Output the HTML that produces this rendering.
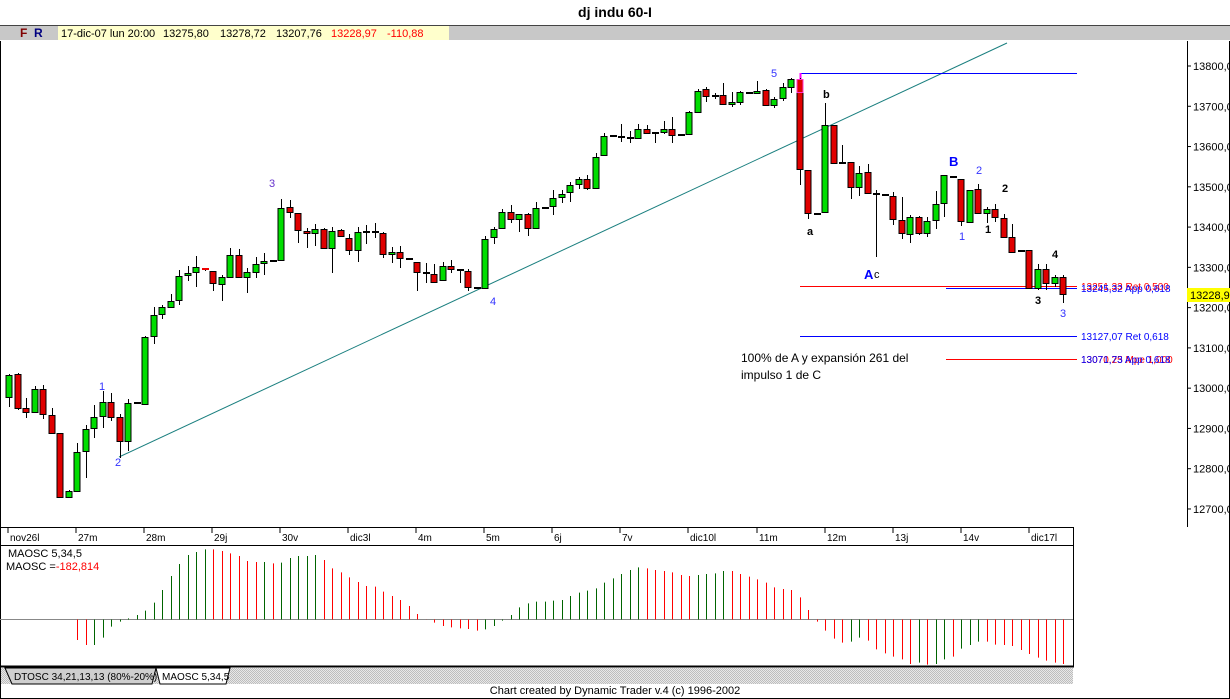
<!DOCTYPE html>
<html><head><meta charset="utf-8">
<style>
body{margin:0;background:#fff;}
svg{display:block;font-family:"Liberation Sans",sans-serif;}
</style></head>
<body>
<svg id="s" width="1230" height="699" xmlns="http://www.w3.org/2000/svg">
<defs>
<pattern id="hatch" width="2" height="2" patternUnits="userSpaceOnUse"><rect width="2" height="2" fill="#e8e8e8"/><rect width="1" height="1" fill="#bdbdbd"/><rect x="1" y="1" width="1" height="1" fill="#bdbdbd"/></pattern>
</defs>
<rect x="0" y="0" width="1230" height="699" fill="#fff"/>
<text x="615" y="17" font-size="14" font-weight="bold" text-anchor="middle" font-family="Liberation Sans,sans-serif">dj indu 60-I</text>
<rect x="0" y="25" width="1230" height="15" fill="#c8c8c8"/>
<line x1="0" y1="25.5" x2="1230" y2="25.5" stroke="#444"/>
<line x1="0" y1="40.5" x2="1230" y2="40.5" stroke="#fff"/>
<text x="20" y="37" font-size="12" font-weight="bold" fill="#800000">F</text>
<text x="34" y="37" font-size="12" font-weight="bold" fill="#000080">R</text>
<rect x="58" y="26" width="391" height="14" fill="#ffffcc"/>
<text x="61" y="37" font-size="11" fill="#000">17-dic-07 lun 20:00</text>
<text x="163" y="37" font-size="11">13275,80</text>
<text x="220" y="37" font-size="11">13278,72</text>
<text x="276" y="37" font-size="11">13207,76</text>
<text x="331" y="37" font-size="11" fill="#f00">13228,97</text>
<text x="387" y="37" font-size="11" fill="#f00">-110,88</text>
<line x1="0.5" y1="41" x2="0.5" y2="699" stroke="#000"/>
<line x1="1229.5" y1="41" x2="1229.5" y2="699" stroke="#000"/>
<line x1="0" y1="698.5" x2="1230" y2="698.5" stroke="#000"/>
<line x1="1187.5" y1="41" x2="1187.5" y2="527" stroke="#000"/>
<g id="axis" font-size="11"></g>
<line x1="0" y1="527.5" x2="1074" y2="527.5" stroke="#000"/>
<line x1="0" y1="545.5" x2="1074" y2="545.5" stroke="#000"/>
<line x1="1073.5" y1="527" x2="1073.5" y2="667" stroke="#000"/>
<line x1="0" y1="666.5" x2="1074" y2="666.5" stroke="#000" stroke-width="2"/>
<g id="dates" font-size="10"></g>
<line x1="119" y1="457" x2="1007" y2="43" stroke="#1a7f7f" stroke-width="1"/>
<line x1="800" y1="73.5" x2="1077" y2="73.5" stroke="#0000ff"/>
<line x1="800.5" y1="73" x2="800.5" y2="80" stroke="#ff00ff" stroke-width="2"/>
<line x1="800" y1="286.5" x2="1077" y2="286.5" stroke="#f00"/>
<line x1="946" y1="288.5" x2="1077" y2="288.5" stroke="#0000ff"/>
<line x1="800" y1="336.5" x2="1077" y2="336.5" stroke="#0000ff"/>
<line x1="946" y1="359.5" x2="1077" y2="359.5" stroke="#f00"/>
<g id="candles"></g>
<g font-size="10">
<text x="1081" y="290" fill="#f00">13251,33 Ret 0,500</text>
<text x="1081" y="292" fill="#0000ff">13245,32 App 0,618</text>
<text x="1081" y="340" fill="#0000ff">13127,07 Ret 0,618</text>
<text x="1081" y="363" fill="#f00">13070,25 Mpe 1,000</text>
<text x="1081" y="363" fill="#0000ff">13071,73 App 0,618</text>
</g>
<text x="741" y="362" font-size="12">100% de A y expansión 261 del</text>
<text x="741" y="379" font-size="12">impulso 1 de C</text>
<g font-size="11" fill="#3333ff">
<text x="269" y="187" fill="#6633cc">3</text>
<text x="99" y="390">1</text>
<text x="115" y="466">2</text>
<text x="490" y="305">4</text>
<text x="771" y="77">5</text>
<text x="976" y="174">2</text>
<text x="959" y="240">1</text>
<text x="1060" y="317">3</text>
</g>
<g font-size="11" font-weight="bold" fill="#000">
<text x="807" y="235">a</text>
<text x="823" y="98">b</text>
<text x="874" y="278" font-weight="normal">c</text>
<text x="985" y="233">1</text>
<text x="1002" y="192">2</text>
<text x="1052" y="258">4</text>
<text x="1035" y="304">3</text>
</g>
<text x="864" y="279" font-size="13" font-weight="bold" fill="#0000ff">A</text>
<text x="949" y="166" font-size="13" font-weight="bold" fill="#0000ff">B</text>
<rect x="1187" y="288" width="43" height="14" fill="#ffff00"/>
<text x="1190" y="299" font-size="11">13228,9</text>
<line x1="0" y1="619.5" x2="1073" y2="619.5" stroke="#888"/>
<g id="osc"></g>
<text x="8" y="557" font-size="11">MAOSC 5,34,5</text>
<text x="6" y="570" font-size="11">MAOSC =<tspan fill="#f00">-182,814</tspan></text>
<rect x="1" y="668" width="1072" height="16" fill="url(#hatch)"/>
<path d="M5 668 L12 684 L152 684 L156 668 Z" fill="#cfcfcf" stroke="#000"/>
<text x="14" y="680" font-size="10">DTOSC 34,21,13,13 (80%-20%)</text>
<path d="M156 668 L160 684 L226 684 L230 668 Z" fill="#fff" stroke="#000"/>
<text x="162" y="680" font-size="10">MAOSC 5,34,5</text>
<text x="615" y="694" font-size="11" text-anchor="middle">Chart created by Dynamic Trader v.4  (c) 1996-2002</text>
</svg>
<script>
var NS="http://www.w3.org/2000/svg";
function el(p,t,a,txt){var e=document.createElementNS(NS,t);for(var k in a)e.setAttribute(k,a[k]);if(txt)e.textContent=txt;p.appendChild(e);return e;}
var ax=document.getElementById("axis");
var labs=["13800,0","13700,0","13600,0","13500,0","13400,0","13300,0","13200,0","13100,0","13000,0","12900,0","12800,0","12700,0"];
for(var i=0;i<12;i++){var y=66+i*40.27;el(ax,"line",{x1:1187,y1:y,x2:1191,y2:y,stroke:"#000"});el(ax,"text",{x:1193,y:y+4},labs[i]);}
var dg=document.getElementById("dates");
var dl=[["nov26l",10],["27m",78],["28m",146],["29j",214],["30v",282],["dic3l",350],["4m",418],["5m",486],["6j",554],["7v",622],["dic10l",690],["11m",759],["12m",827],["13j",895],["14v",963],["dic17l",1031]];
dl.forEach(function(d){el(dg,"line",{x1:d[1]-2,y1:528,x2:d[1]-2,y2:533,stroke:"#000"});el(dg,"text",{x:d[1],y:541},d[0]);});
var C=[
"g 375 397 374 407","r 374 408 373 410","r 408 412 398 418","g 389 412 386 413","r 389 414 385 419","r 415 433 408 434","r 433 497 433 498","g 491 497 490 498","g 452 491 443 491","g 429 451 425 478",
"g 417 428 405 438","g 402 416 391 428","r 402 417 393 421","r 417 441 414 458","g 403 441 399 451","d 403 403 402 404","g 337 404 336 404","g 315 336 307 344","g 307 314 305 319","g 301 307 294 308",
"g 276 300 270 305","g 273 275 266 281","g 267 272 256 287","r 269 270 268 271","r 271 283 271 291","g 277 284 275 301","g 255 277 248 277","r 255 277 249 278","g 272 277 268 293","g 264 272 257 278",
"g 261 263 253 275","d 261 261 261 261","g 208 260 199 260","r 207 212 200 218","r 213 230 213 243","r 231 233 228 248","g 229 233 224 246","r 229 248 228 249","g 231 248 227 273","r 230 236 229 237",
"r 238 250 234 255","g 232 250 227 262","d 232 232 225 244","d 232 232 223 238","r 233 254 232 258","g 252 254 247 263","r 252 258 246 268","d 259 259 259 260","r 262 272 262 291","d 273 273 263 283",
"r 274 282 264 282","g 266 280 262 281","r 266 269 260 273","d 270 270 270 283","r 271 287 269 291","d 288 288 288 289","g 239 288 236 288","g 229 237 227 244","g 212 228 209 228","r 212 219 205 223",
"g 214 219 214 232","r 214 228 213 236","g 208 228 202 228","d 208 208 207 209","g 198 206 190 215","g 194 197 190 203","g 185 192 182 202","g 179 184 177 189","r 179 188 175 190","g 157 188 153 188",
"g 136 155 133 155","d 136 136 136 137","d 137 137 124 142","d 138 138 131 143","g 129 138 124 139","r 129 133 125 134","d 133 133 133 143","g 129 132 121 134","r 129 135 117 143","d 135 135 135 136",
"g 112 134 111 135","g 91 112 89 112","r 89 96 87 102","d 96 96 93 99","r 95 104 83 104","g 102 104 92 107","g 92 102 91 105","d 93 93 93 94","g 91 93 81 93","r 90 105 89 106",
"g 99 105 97 108","g 87 98 83 101","g 79 87 78 93","r 79 169 78 185","r 170 213 170 219","d 214 214 213 215","g 125 212 103 213","r 125 163 125 164","d 163 163 145 164","r 162 187 162 199",
"g 173 187 166 196","r 172 193 164 194","d 194 194 190 257","d 195 195 195 196","r 196 219 192 225","r 220 233 197 239","g 217 234 215 243","r 217 233 216 235","g 221 233 217 237","g 204 220 191 229",
"g 175 203 175 217","d 177 177 176 178","r 179 221 179 226","g 190 222 190 222","r 189 213 184 214","g 209 213 207 223","r 209 217 204 222","r 218 237 214 238","r 237 252 224 253","d 251 251 251 252",
"r 250 288 250 289","g 269 288 264 290","r 269 283 264 290","g 277 283 275 287","r 277 294 275 303"];
var cg=document.getElementById("candles");
C.forEach(function(s,i){var p=s.split(" ");var t=+p[1],b=+p[2],h=+p[3],l=+p[4];var x=Math.round(9+i*8.5);
el(cg,"line",{x1:x+0.5,y1:h,x2:x+0.5,y2:l,stroke:"#000"});
if(p[0]=="d"||b-t<2){el(cg,"rect",{x:x-3,y:t-1,width:7,height:2,fill:p[0]=="r"?"#e00":"#000"});}
else el(cg,"rect",{x:x-3,y:t+0.5,width:6,height:b-t,fill:p[0]=="g"?"#00dd00":"#e00000",stroke:"#000"});
if(i==93)el(cg,"rect",{x:x-3,y:79.5,width:6,height:13,fill:"#e00000",stroke:"#ff33cc"});
});
var O="r360 r375 g375 g353 g320 g305 g295 g285 g272 g248 g210 g168 g132 g105 g96 g88 r88 r93 r100 r108 r123 r126 g126 r130 g128 g114 g108 g108 g105 r120 r145 r157 r172 r186 r198 r200 r215 r228 r240 r258 r282 r298 r308 r318 r322 r325 r327 r332 g328 g318 g302 g285 g262 g250 g245 g245 g242 g240 g228 g218 g212 g205 g188 g175 g162 g150 g142 r145 r150 r153 r157 r165 r168 g165 g162 g160 g153 r153 r162 r170 r178 r188 r202 r207 r210 r232 r270 r305 r332 r356 r368 g365 g353 r362 r388 r400 r410 r418 r432 g428 r434 g432 g418 r410 g386 g375 g365 r365 r374 r375 r378 r390 r402 r413 r422 r428 r432".split(" ");
var og=document.getElementById("osc");
O.forEach(function(s,i){var x=Math.round(9+(i+8)*8.5)+0.5;var y=520+(+s.slice(1))/3;
el(og,"line",{x1:x,y1:619.5,x2:x,y2:y,stroke:s[0]=="g"?"#006400":"#f00"});});
</script>
</body></html>
